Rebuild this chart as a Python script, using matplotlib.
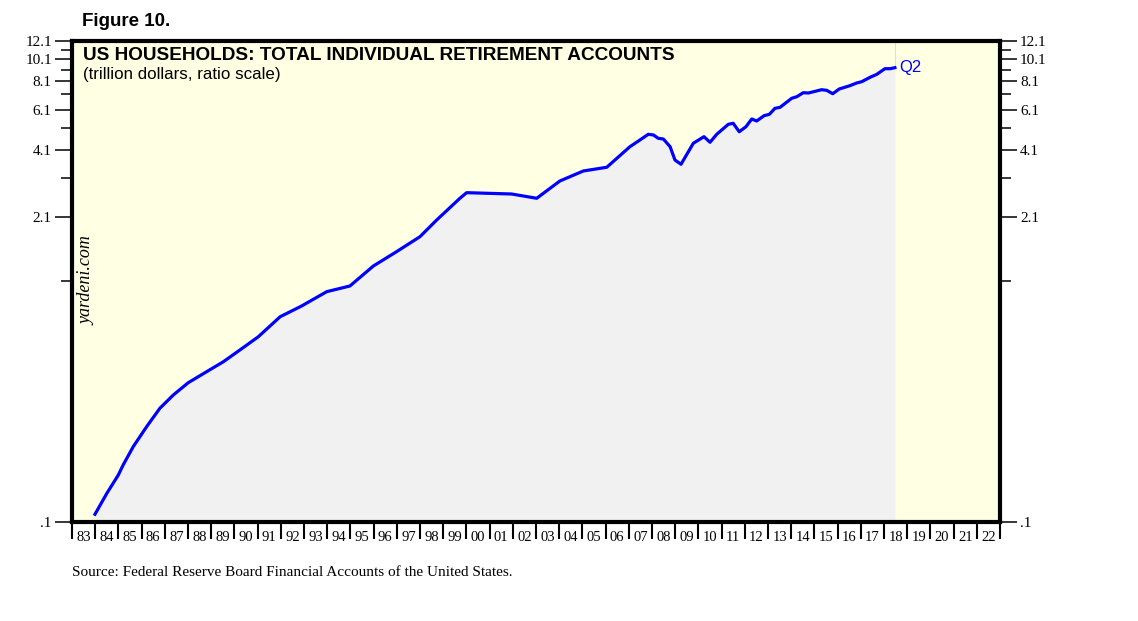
import matplotlib
matplotlib.use("Agg")
import matplotlib.pyplot as plt
from matplotlib.ticker import FixedLocator, FixedFormatter, NullFormatter

# ---- data (decimal year, trillion dollars) ----
years = [1983.99, 1984.50, 1985.00, 1985.21, 1985.64, 1986.22, 1986.79, 1987.37,
         1988.01, 1988.81, 1989.52, 1990.24, 1991.03, 1991.97, 1992.90, 1993.98,
         1994.98, 1995.99, 1996.99, 1998.00, 1998.72, 1999.72, 2000.01, 2001.95,
         2003.03, 2004.03, 2005.04, 2006.05, 2007.05, 2007.48, 2007.84, 2008.06,
         2008.27, 2008.49, 2008.78, 2008.99, 2009.25, 2009.78, 2010.24, 2010.50,
         2010.79, 2011.29, 2011.50, 2011.76, 2012.05, 2012.30, 2012.51, 2012.83,
         2013.06, 2013.30, 2013.52, 2014.02, 2014.24, 2014.52, 2014.74, 2015.31,
         2015.53, 2015.79, 2016.07, 2016.53, 2016.82, 2017.04, 2017.40, 2017.69,
         2018.04, 2018.26, 2018.47]
ira = [0.108, 0.133, 0.160, 0.177, 0.212, 0.259, 0.311, 0.355,
       0.401, 0.448, 0.494, 0.556, 0.634, 0.774, 0.862, 0.994,
       1.052, 1.284, 1.481, 1.720, 2.031, 2.522, 2.667, 2.632,
       2.522, 2.997, 3.311, 3.436, 4.219, 4.510, 4.774, 4.741,
       4.586, 4.554, 4.219, 3.694, 3.540, 4.364, 4.662, 4.408,
       4.774, 5.274, 5.327, 4.897, 5.149, 5.561, 5.451, 5.746,
       5.826, 6.185, 6.247, 6.833, 6.943, 7.226, 7.205, 7.445,
       7.400, 7.154, 7.499, 7.749, 7.960, 8.065, 8.426, 8.682,
       9.182, 9.182, 9.274]

y_major = [0.1, 2.1, 4.1, 6.1, 8.1, 10.1, 12.1]
y_major_labels = [".1", "2.1", "4.1", "6.1", "8.1", "10.1", "12.1"]
y_minor = [1.1, 3.1, 5.1, 7.1, 9.1, 11.1]
year_start, year_end = 1983, 2023
x_labels = ["%02d" % (y % 100) for y in range(year_start, year_end)]

SERIF = "Liberation Serif"
SANS = "Liberation Sans"

fig = plt.figure(figsize=(11.38, 6.21), dpi=100)
fig.patch.set_facecolor("white")
ax = fig.add_axes([72 / 1138, 1 - 522 / 621, (1000 - 72) / 1138, (522 - 41) / 621])
ax.set_facecolor("#ffffe3")
ax.set_yscale("log")
ax.set_ylim(0.1, 12.1)
ax.set_xlim(year_start, year_end)

ax.fill_between(years, ira, 0.1, color="#f1f1f1", lw=0, zorder=1)
ax.plot([years[-1], years[-1]], [ira[-1], 12.1], color="#dcdcdc", lw=0.7, zorder=1)
ax.plot(years, ira, color="#0000ff", lw=2.3, zorder=3, solid_joinstyle="round")
ax.text(years[-1] + 0.2, ira[-1], "Q2", color="#0000ff", fontsize=12,
        family=SANS, va="center", ha="left")

# y axis
ax.yaxis.set_major_locator(FixedLocator(y_major))
ax.yaxis.set_major_formatter(FixedFormatter(y_major_labels))
ax.yaxis.set_minor_locator(FixedLocator(y_minor))
ax.yaxis.set_minor_formatter(NullFormatter())
ax.tick_params(axis="y", which="major", direction="out", length=12, width=1.1,
               left=True, right=True, labelleft=True, labelright=True,
               labelsize=11, pad=2.5)
ax.tick_params(axis="y", which="minor", direction="out", length=8, width=1.1,
               left=True, right=True)
for lab in ax.get_yticklabels():
    lab.set_family(SERIF)

# x axis
ax.xaxis.set_major_locator(FixedLocator(list(range(year_start, year_end + 1))))
ax.xaxis.set_major_formatter(NullFormatter())
ax.xaxis.set_minor_locator(FixedLocator([y + 0.5 for y in range(year_start, year_end)]))
ax.xaxis.set_minor_formatter(FixedFormatter(x_labels))
ax.tick_params(axis="x", which="major", direction="out", length=12, width=1.5)
ax.tick_params(axis="x", which="minor", length=0, labelsize=10.5, pad=6.5)
for lab in ax.get_xticklabels(minor=True):
    lab.set_family(SERIF)

for sp in ax.spines.values():
    sp.set_linewidth(3)
    sp.set_color("black")

# texts
fig.text(82 / 1138, 1 - 21 / 621, "Figure 10.", fontsize=13.5, fontweight="bold",
         family=SANS, va="center", ha="left")
ax.text(83 / 1138, 1 - 55 / 621, "US HOUSEHOLDS: TOTAL INDIVIDUAL RETIREMENT ACCOUNTS",
        transform=fig.transFigure, fontsize=13.7, fontweight="bold", family=SANS,
        va="center", ha="left", zorder=5)
ax.text(83 / 1138, 1 - 75 / 621, "(trillion dollars, ratio scale)",
        transform=fig.transFigure, fontsize=12.2, family=SANS,
        va="center", ha="left", zorder=5)
ax.text(86.5 / 1138, 1 - 281 / 621, "yardeni.com", transform=fig.transFigure,
        fontsize=13, family=SERIF, style="italic", rotation=90,
        va="center", ha="center", zorder=5)
fig.text(72 / 1138, 1 - 572 / 621,
         "Source: Federal Reserve Board Financial Accounts of the United States.",
         fontsize=11, family=SERIF, va="center", ha="left")

fig.savefig("out.png", dpi=100)
